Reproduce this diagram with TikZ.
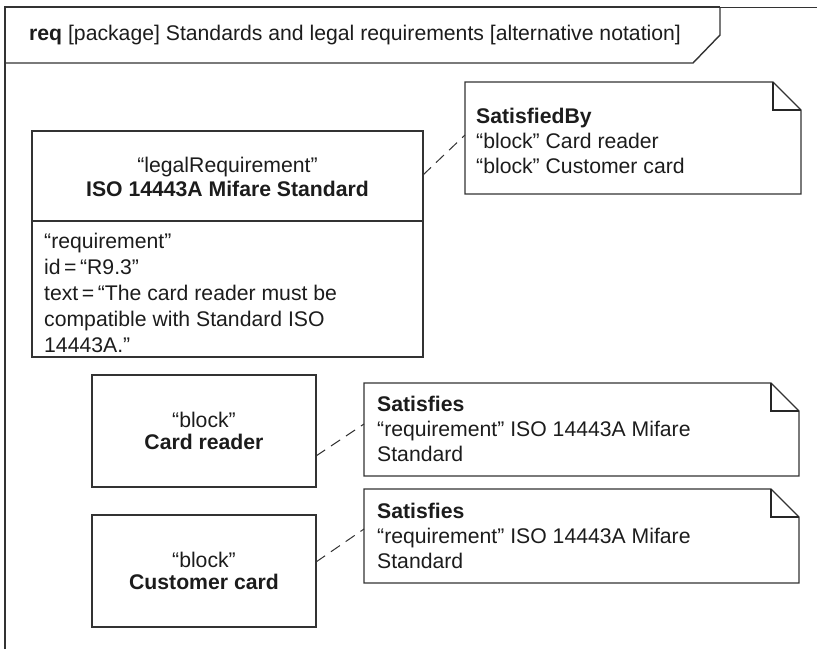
\documentclass[tikz,border=0pt]{standalone}
\usepackage{fontspec}
\setmainfont{Liberation Sans}
\usetikzlibrary{calc}
\definecolor{ln}{HTML}{333333}
\definecolor{tx}{HTML}{1C1C1C}
\begin{document}
\begin{tikzpicture}[x=1pt,y=-1pt,
  every node/.style={text=tx, font=\fontsize{21.2}{25}\selectfont},
  shapebox/.style={draw=ln, line width=1.4pt, inner sep=0pt, outer sep=0pt, anchor=north west},
  noteframe/.style={inner sep=0pt, outer sep=0pt, anchor=north west},
  txt/.style={anchor=base west, align=left, inner sep=0pt},
  link/.style={draw=ln, line width=1pt, dash pattern=on 11pt off 7pt}]
\useasboundingbox (0,0) rectangle (817,649);
% frame
\draw[ln, line width=1.4pt] (5,649) -- (5,7) -- (720,7);
\draw[ln, line width=0.8pt] (720,7) -- (817,7);
\draw[ln, line width=1.4pt] (5,63) -- (693,63) -- (720,35) -- (720,7);
\node[txt] (title) at (29,40) {\textbf{req} [package] Standards and legal requirements [alternative notation]};
% requirement block
\node[shapebox, minimum width=391pt, minimum height=226pt] (req) at (32,131) {};
\draw[ln, line width=1.4pt] ($(req.north west)+(0,90)$) -- ($(req.north east)+(0,90)$);
\node[anchor=base, inner sep=0pt] (rq1) at ($(req.north)+(0,41)$) {“legalRequirement”};
\node[anchor=base, inner sep=0pt] (rq2) at ($(req.north)+(0,65)$) {\textbf{ISO 14443A Mifare Standard}};
\node[txt, font=\fontsize{21.2}{26}\selectfont] (rq3) at ($(req.north west)+(12,221)$) {“requirement”\\id\,=\,“R9.3”\\text\,=\,“The card reader must be\\compatible with Standard ISO\\14443A.”};
% blocks
\node[shapebox, minimum width=224pt, minimum height=112pt] (cr) at (92,375) {};
\node[align=center, font=\fontsize{21.2}{22}\selectfont] at (cr.center) {“block”\\\textbf{Card reader}};
\node[shapebox, minimum width=224pt, minimum height=112pt] (cc) at (92,515) {};
\node[align=center, font=\fontsize{21.2}{22}\selectfont] at (cc.center) {“block”\\\textbf{Customer card}};
% notes
\node[noteframe, minimum width=336pt, minimum height=112pt] (n1) at (465,82) {};
\node[noteframe, minimum width=435pt, minimum height=93pt] (n2) at (364,383) {};
\node[noteframe, minimum width=435pt, minimum height=94pt] (n3) at (364,489) {};
\foreach \n in {n1,n2,n3} {
  \draw[ln, line width=1.4pt] (\n.north west) -- ($(\n.north east)+(-28,0)$) -- ($(\n.north east)+(0,28)$) -- (\n.south east) -- (\n.south west) -- cycle;
  \draw[black!85, line width=1.7pt] ($(\n.north east)+(-28,0)$) |- ($(\n.north east)+(0,28)$);
}
\node[txt] (t1) at ($(n1.north west)+(11,91)$) {\textbf{SatisfiedBy}\\“block” Card reader\\“block” Customer card};
\node[txt] (t2) at ($(n2.north west)+(13,78)$) {\textbf{Satisfies}\\“requirement” ISO 14443A Mifare\\Standard};
\node[txt] (t3) at ($(n3.north west)+(13,79)$) {\textbf{Satisfies}\\“requirement” ISO 14443A Mifare\\Standard};
% connectors
\draw[link] ([yshift=-44pt]req.north east) -- ([yshift=-53pt]n1.north west);
\draw[link] ([yshift=-81pt]cr.north east) -- ([yshift=-41pt]n2.north west);
\draw[link] ([yshift=-47pt]cc.north east) -- ([yshift=-40pt]n3.north west);
\end{tikzpicture}
\end{document}
